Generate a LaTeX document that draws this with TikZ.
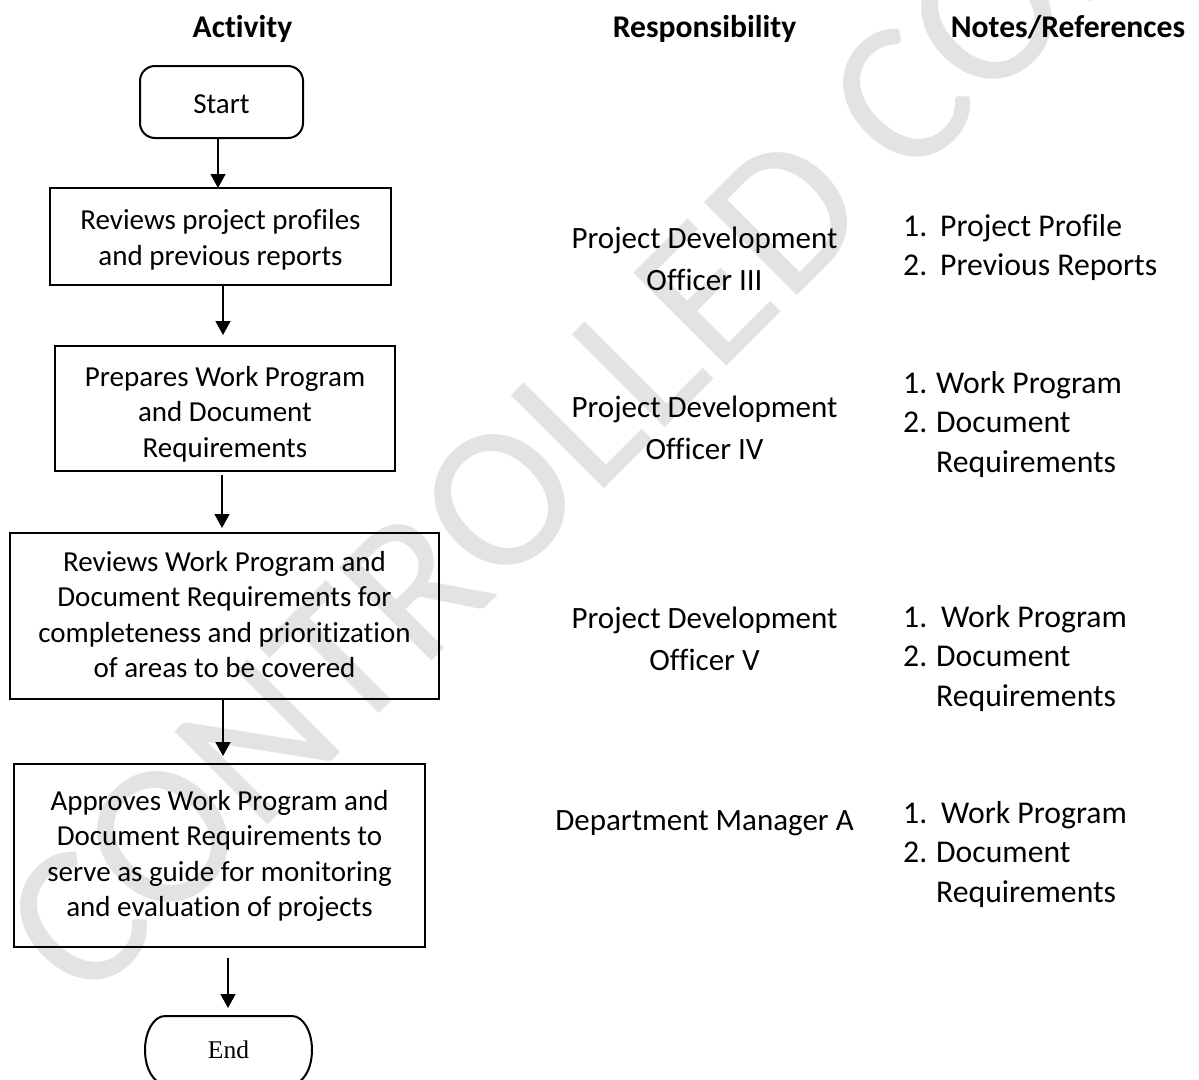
\documentclass[tikz,border=0pt]{standalone}
\usepackage{fontspec}
\setmainfont[Ligatures=NoCommon]{Carlito}
\newfontfamily\myserif{Liberation Serif}
\usetikzlibrary{arrows.meta}
\newcommand\myboxfont{\fontsize{29pt}{35.6pt}\selectfont}
\newcommand\myrespfont{\fontsize{31pt}{42pt}\selectfont}
\newcommand\mynotefont{\fontsize{31.7pt}{39.5pt}\selectfont}
\newcommand\myheadfont{\fontsize{31.6pt}{38pt}\selectfont\bfseries}
\newcommand\mymarkfont{\fontsize{205pt}{205pt}\selectfont}
\newcommand\myendfont{\myserif\fontsize{25.5pt}{30pt}\selectfont}
\newcommand\btext[2]{\raisebox{#1}[0pt][0pt]{\begin{tabular}[t]{@{}c@{}}#2\end{tabular}}}
\newcommand\ltext[1]{\begin{tabular}[t]{@{}l@{}}#1\end{tabular}}
\newcommand\ctext[1]{\begin{tabular}[t]{@{}c@{}}#1\end{tabular}}
\newcommand\num[2]{\makebox[#1][l]{#2}}
\begin{document}
\begin{tikzpicture}[x=1pt,y=-1pt,
  boxstyle/.style={draw, line width=2.8pt, inner sep=0pt, outer sep=0pt, font=\myboxfont},
  startstyle/.style={draw, line width=2pt, rounded corners=15pt, inner sep=0pt, outer sep=0pt, font=\myboxfont},
  arr/.style={line width=1.3pt, -{Triangle[width=15pt,length=14pt]}},
  head/.style={inner sep=0pt, anchor=base, font=\myheadfont},
  resp/.style={inner sep=0pt, anchor=base, font=\myrespfont},
  note/.style={inner sep=0pt, anchor=base west, font=\mynotefont},
]
\useasboundingbox (0,0) rectangle (1199,1079);
% watermark
\node[inner sep=0pt, rotate=45, text=black!11, font=\mymarkfont] (wm) at (609,391) {CONTROLLED COPY};

% headers
\node[head] (h1) at (242.5,37.5) {Activity};
\node[head] (h2) at (704.5,37.5) {Responsibility};
\node[head] (h3) at (1068,37.5) {Notes/References};

% activity column
\node[startstyle, minimum width=163pt, minimum height=72pt] (start) at (221.5,102) {\raisebox{-11pt}[0pt][0pt]{Start}};
\node[boxstyle, minimum width=341pt, minimum height=97pt] (b1) at (220.5,236.5)
  {\btext{7pt}{Reviews project profiles\\and previous reports}};
\node[boxstyle, minimum width=340pt, minimum height=125pt] (b2) at (225,408.5)
  {\btext{22.5pt}{Prepares Work Program\\and Document\\Requirements}};
\node[boxstyle, minimum width=429pt, minimum height=166pt] (b3) at (224.5,616)
  {\btext{45pt}{Reviews Work Program and\\Document Requirements for\\completeness and prioritization\\of areas to be covered}};
\node[boxstyle, minimum width=411pt, minimum height=183pt] (b4) at (219.5,855.5)
  {\btext{45.5pt}{Approves Work Program and\\Document Requirements to\\serve as guide for monitoring\\and evaluation of projects}};
\node[inner sep=0pt, outer sep=0pt, minimum width=167pt, minimum height=68pt, font=\myendfont] (end) at (228.5,1050) {End};
\draw[line width=2pt] ([xshift=20pt]end.north west) -- ([xshift=-20pt]end.north east)
  arc[start angle=90, end angle=-90, x radius=20pt, y radius=34pt]
  -- ([xshift=20pt]end.south west)
  arc[start angle=270, end angle=90, x radius=20pt, y radius=34pt] -- cycle;

% connectors
\draw[arr] ([xshift=-3.5pt]start.south) -- ([xshift=-3.5pt]start.south |- b1.north);
\draw[arr, shorten >=11pt] ([xshift=2.5pt]b1.south) -- ([xshift=2.5pt]b1.south |- b2.north);
\draw[arr, shorten <=4pt, shorten >=5pt] ([xshift=-3pt]b2.south) -- ([xshift=-3pt]b2.south |- b3.north);
\draw[arr, shorten >=8pt] ([xshift=-1.5pt]b3.south) -- ([xshift=-1.5pt]b3.south |- b4.north);
\draw[arr, shorten <=11pt, shorten >=8pt] ([xshift=8.5pt]b4.south) -- ([xshift=8.5pt]b4.south |- end.north);

% responsibility column
\node[resp] (r1) at (704.5,248) {\ctext{Project Development\\Officer III}};
\node[resp] (r2) at (704.5,417) {\ctext{Project Development\\Officer IV}};
\node[resp] (r3) at (704.5,628) {\ctext{Project Development\\Officer V}};
\node[resp] (r4) at (704.5,830) {Department Manager A};

% notes column
\node[note] (n1) at (903,236) {\ltext{\num{37pt}{1.}Project Profile\\\num{37pt}{2.}Previous Reports}};
\node[note] (n2) at (903,393) {\ltext{\num{33pt}{1.}Work Program\\\num{33pt}{2.}Document\\\hspace*{33pt}Requirements}};
\node[note] (n3) at (903,627) {\ltext{\num{38pt}{1.}Work Program\\\num{33pt}{2.}Document\\\hspace*{33pt}Requirements}};
\node[note] (n4) at (903,823) {\ltext{\num{38pt}{1.}Work Program\\\num{33pt}{2.}Document\\\hspace*{33pt}Requirements}};
\end{tikzpicture}
\end{document}
